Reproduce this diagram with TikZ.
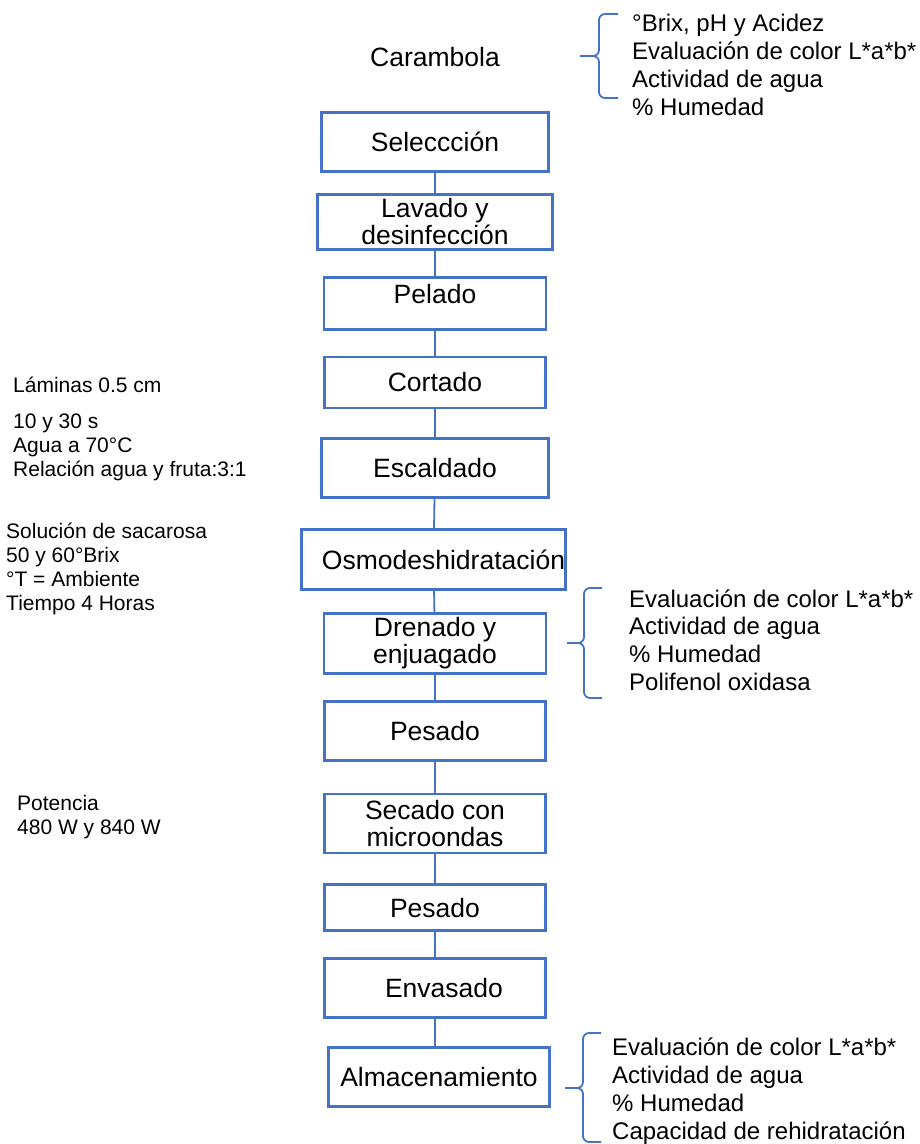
\documentclass[tikz,border=0pt]{standalone}
\usepackage{fontspec}
\setmainfont{Liberation Sans}
\usepackage{tikz}
\usetikzlibrary{positioning}
\definecolor{boxblue}{RGB}{68,114,196}

\begin{document}
\begin{tikzpicture}[x=1pt,y=-1pt,auto,node distance=25pt,
                    proc/.style={shape=rectangle,draw=boxblue,line width=2.8pt,inner sep=0pt,align=center,font=\fontsize{26.5}{27}\selectfont},
                    note/.style={anchor=west,align=left,inner sep=0pt,font=\fontsize{21}{24}\selectfont},
                    meas/.style={anchor=west,align=left,inner sep=0pt,font=\fontsize{24}{27.8}\selectfont},
                    link/.style={draw=boxblue,line width=1.8pt},
                    brc/.style={draw=boxblue,line width=1.8pt,rounded corners=6pt}]
  \useasboundingbox (0,0) rectangle (919,1144);
    \node[font=\fontsize{26.5}{27}\selectfont] (Car) at (435,57) {Carambola};
  \node[proc,minimum width=227pt,minimum height=59pt] (Sel) at (435,142) {Seleccción};
  \node[proc,minimum width=235pt,minimum height=55pt] (Lav) [below=20pt of Sel] {Lavado y\\desinfección};
  \node[proc,minimum width=222pt,minimum height=52pt,text depth=19pt] (Pel) [below=25pt of Lav] {Pelado};
  \node[proc,minimum width=221pt,minimum height=51pt] (Cor) [below=25pt of Pel] {Cortado};
  \node[proc,minimum width=227pt,minimum height=59pt] (Esc) [below=28pt of Cor] {Escaldado};
  \node[proc,minimum width=264pt,minimum height=60pt] (Osm) [below=29pt of Esc,xshift=-1.5pt] {\hspace*{20pt}Osmodeshidratación};
  \node[proc,minimum width=222pt,minimum height=60pt] (Dre) [below=21pt of Osm,xshift=1.5pt] {Drenado y\\enjuagado};
  \node[proc,minimum width=221pt,minimum height=59pt,text depth=0pt] (PesA) [below=25pt of Dre] {Pesado};
  \node[proc,minimum width=221pt,minimum height=59pt] (Sec) [below=31pt of PesA] {Secado con\\microondas};
  \node[proc,minimum width=221pt,minimum height=46pt,text depth=0pt] (PesB) [below=29pt of Sec] {Pesado};
  \node[proc,minimum width=221pt,minimum height=59pt] (Env) [below=25pt of PesB] {\hspace*{18pt}Envasado};
  \node[proc,minimum width=221pt,minimum height=59pt] (Alm) [below=27pt of Env,xshift=4pt] {Almacenamiento};

  \node[note] (NLam) at (13,385) {Láminas 0.5 cm};
  \node[note] (NEsc) at (13,447.5) {10 y 30 s\\Agua a 70°C\\Relación agua y fruta:3:1};
  \node[note] (NOsm) at (6,569) {Solución de sacarosa\\50 y 60°Brix\\°T = Ambiente\\Tiempo 4 Horas};
  \node[note] (NSec) at (17,817.5) {Potencia\\480 W y 840 W};

  \node[meas] (MCar) at (632,65) {°Brix, pH y Acidez\\Evaluación de color L*a*b*\\Actividad de agua\\\% Humedad};
  \node[meas] (MDre) at (629,640) {Evaluación de color L*a*b*\\Actividad de agua\\\% Humedad\\Polifenol oxidasa};
  \node[meas] (MAlm) at (612,1091) {Evaluación de color L*a*b*\\Actividad de agua\\\% Humedad\\Capacidad de rehidratación};

  \path[link] (Sel) edge (Lav)
        (Lav) edge (Pel)
        (Pel) edge (Cor)
            (Cor) edge (Esc)
        (Esc) edge (Osm)
        (Osm) edge (Dre)
        (Dre) edge (PesA)
            (PesA) edge (Sec)
        (Sec) edge (PesB)
        (PesB) edge (Env)
        (Env) edge (Env.south |- Alm.north);

  \draw[brc] (618,14) -- (599,14) -- (599,56) -- (580,56);
  \draw[brc] (618,98) -- (599,98) -- (599,56) -- (580,56);
  \draw[brc] (602,588) -- (584,588) -- (584,643) -- (567,643);
  \draw[brc] (602,698) -- (584,698) -- (584,643) -- (567,643);
  \draw[brc] (601,1033) -- (583,1033) -- (583,1088) -- (565,1088);
  \draw[brc] (601,1142) -- (583,1142) -- (583,1088) -- (565,1088);
\end{tikzpicture}
\end{document}
